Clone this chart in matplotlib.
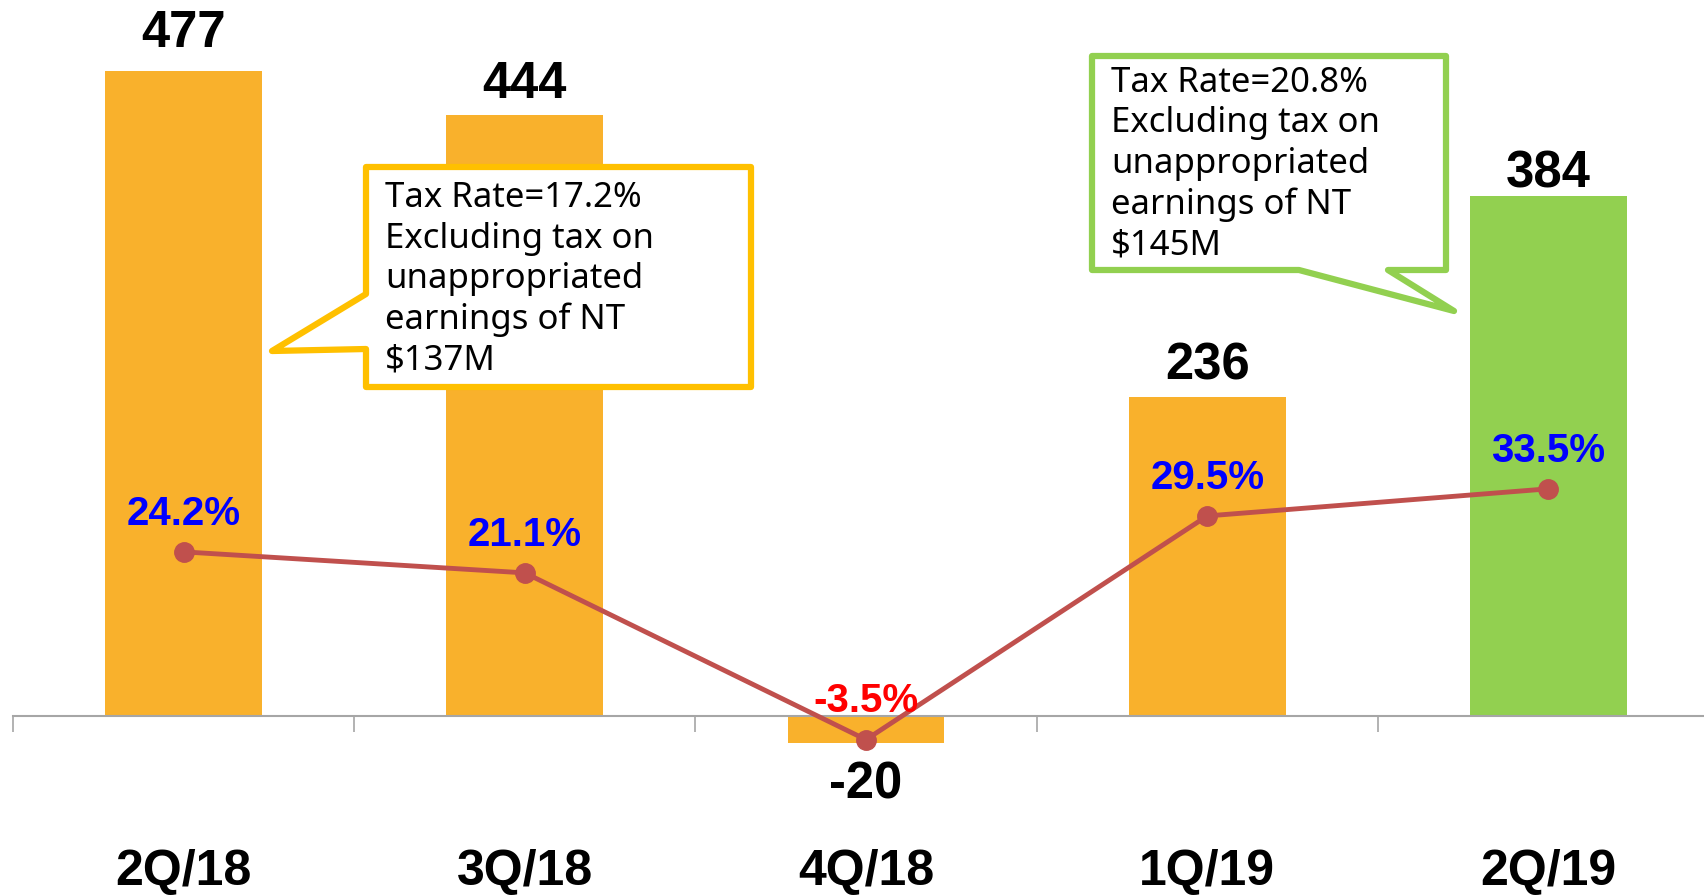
import matplotlib.pyplot as plt
from matplotlib.patches import Polygon

# data
quarters = ['2Q/18', '3Q/18', '4Q/18', '1Q/19', '2Q/19']
net_income = [477, 444, -20, 236, 384]
tax_rate = [24.2, 21.1, -3.5, 29.5, 33.5]
rate_labels = ['24.2%', '21.1%', '-3.5%', '29.5%', '33.5%']
note_2q18 = "Tax Rate=17.2%\nExcluding tax on\nunappropriated\nearnings of NT\n$137M"
note_2q19 = "Tax Rate=20.8%\nExcluding tax on\nunappropriated\nearnings of NT\n$145M"

orange = '#F9B12C'
green = '#92D050'
yellow = '#FFC000'
bar_colors = [orange, orange, orange, orange, green]
rate_colors = ['#0000FF', '#0000FF', '#FF0000', '#0000FF', '#0000FF']
value_offsets = [27, 22, -30, 22, 16]  # points, label centre vs bar end

W, H = 1704, 896
fig = plt.figure(figsize=(W / 100, H / 100), dpi=100)
ax = fig.add_axes([13 / W, 0, 1706 / W, 1])
x = list(range(len(quarters)))

ax.bar(x, net_income, width=0.46, color=bar_colors, zorder=2)
ax.set_xlim(-0.5, 4.5)
ax.set_ylim(-133, 529.2)
for s in ['top', 'left', 'right']:
    ax.spines[s].set_visible(False)
ax.spines['bottom'].set_position(('data', 0))
ax.spines['bottom'].set_color('#A6A6A6')
ax.spines['bottom'].set_linewidth(1.5)
ax.set_yticks([])
ax.set_xticks([i - 0.5 for i in range(len(quarters) + 1)])
ax.set_xticklabels([])
ax.tick_params(axis='x', which='major', direction='out', length=11.5,
               width=1.2, color='#A6A6A6')
ax.set_xticks(x, minor=True)
ax.set_xticklabels(quarters, minor=True, fontsize=36, fontweight='bold',
                   family='Liberation Sans')
ax.tick_params(axis='x', which='minor', length=0, pad=96)

for i, v in enumerate(net_income):
    ax.annotate(str(v), (i, v), xytext=(0, value_offsets[i]),
                textcoords='offset points', ha='center', va='center',
                fontsize=36.5, fontweight='bold', family='Liberation Sans')

# tax rate line on second axis
ax2 = ax.twinx()
ax2.set_ylim(-26.56, 105.6)
ax2.set_yticks([])
for s in ax2.spines.values():
    s.set_visible(False)
ax2.plot(x, tax_rate, color='#C0504D', lw=3.5, marker='o', markersize=14, zorder=3)
for i, r in enumerate(tax_rate):
    ax2.annotate(rate_labels[i], (i, r), xytext=(0, 27.5),
                 textcoords='offset points', ha='center', va='center',
                 fontsize=29, fontweight='bold', color=rate_colors[i],
                 family='Liberation Sans')


# callouts, in figure pixels
def px(pts):
    return [(a / W, 1 - b / H) for a, b in pts]


yellow_box = [(366, 167), (751, 167), (751, 387), (366, 387), (366, 349),
              (272, 351), (366, 294)]
green_box = [(1092, 56), (1446, 56), (1446, 270), (1388, 270), (1454, 311),
             (1299, 270), (1092, 270)]
for pts, col in [(yellow_box, yellow), (green_box, green)]:
    fig.add_artist(Polygon(px(pts), closed=True, transform=fig.transFigure,
                           facecolor='white', edgecolor=col, lw=4.5,
                           joinstyle='round', zorder=5))

fig.text(385 / W, 1 - 181 / H, note_2q18, va='top', ha='left', fontsize=25,
         family='Noto Sans', linespacing=1.25, zorder=6)
fig.text(1111 / W, 1 - 66 / H, note_2q19, va='top', ha='left', fontsize=25,
         family='Noto Sans', linespacing=1.25, zorder=6)

fig.savefig('out.png', dpi=100)
